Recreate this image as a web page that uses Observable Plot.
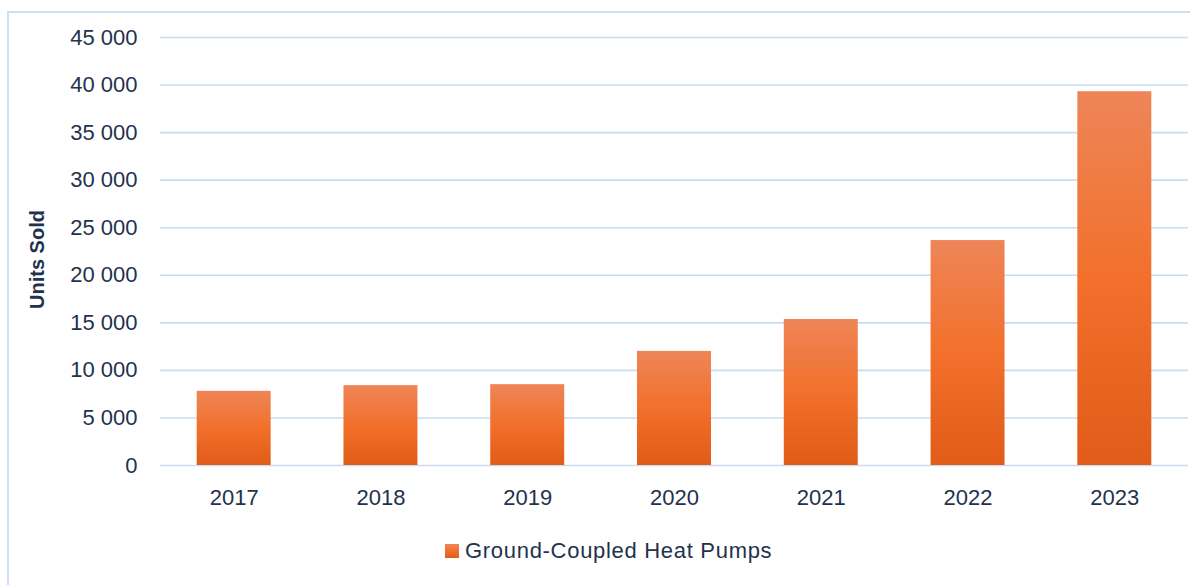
<!DOCTYPE html>
<html>
<head>
<meta charset="utf-8">
<script src="https://cdn.jsdelivr.net/npm/d3@7"></script>
<script src="https://cdn.jsdelivr.net/npm/@observablehq/plot@0.6"></script>
<style>
  html, body { margin: 0; padding: 0; background: #fff; }
  body { width: 1190px; height: 585px; position: relative; overflow: hidden; font-family: "Liberation Sans", Arial, sans-serif; }
  #frame { position: absolute; left: 7px; top: 11px; right: -5px; bottom: -5px; border-left: 2px solid #CCDFF3; border-top: 2px solid #CCDFF3; }
  #chart { position: absolute; left: 0; top: 0; }
  #legend { position: absolute; left: 445px; top: 538px; display: flex; align-items: center; font-size: 22px; letter-spacing: 0.7px; color: #1F324E; }
  #legend .sw { width: 14px; height: 14px; margin-right: 6px; background: linear-gradient(to bottom, #EE8558, #F2702B 50%, #E05C18); }
</style>
</head>
<body>
<div id="frame"></div>
<div id="chart"></div>
<div id="legend"><span class="sw"></span><span>Ground-Coupled Heat Pumps</span></div>
<script>
const years = ["2017", "2018", "2019", "2020", "2021", "2022", "2023"];
const unitsSold = [7800, 8400, 8500, 12000, 15350, 23650, 39300];
const yTicks = [0, 5000, 10000, 15000, 20000, 25000, 30000, 35000, 40000, 45000];
const seriesName = "Ground-Coupled Heat Pumps";
const yLabel = "Units Sold";

const data = years.map((y, i) => ({year: y, value: unitsSold[i]}));
const fmt = d => d3.format(",")(d).replace(/,/g, " ");
const textColor = "#1F324E";

const chart = Plot.plot({
  width: 1190,
  height: 525,
  marginLeft: 160,
  marginRight: 2,
  marginTop: 37,
  marginBottom: 60,
  style: {fontFamily: "'Liberation Sans', Arial, sans-serif", fontSize: "22px", color: textColor, background: "transparent"},
  x: {domain: years, paddingInner: 0.496, paddingOuter: 0.25, round: false, label: null},
  y: {domain: [0, 45000], label: null},
  marks: [
    Plot.ruleY(yTicks, {stroke: "#C9DCF0", strokeWidth: 1.6}),
    Plot.barY(data, {x: "year", y: "value", fill: "url(#barGrad)"}),
    Plot.axisY({ticks: yTicks, tickFormat: fmt, tickSize: 0, tickPadding: 23, fontSize: 22, fill: textColor, label: null}),
    Plot.axisX({tickSize: 0, tickPadding: 24, fontSize: 22, fill: textColor, label: null}),
    Plot.text([yLabel], {frameAnchor: "left", textAnchor: "middle", rotate: -90, dx: -123, dy: 8, fontSize: 20, fontWeight: "bold", fill: textColor})
  ]
});

const defs = d3.select(chart).insert("defs", ":first-child");
const grad = defs.append("linearGradient").attr("id", "barGrad").attr("x1", 0).attr("y1", 0).attr("x2", 0).attr("y2", 1);
grad.append("stop").attr("offset", "0%").attr("stop-color", "#EE8558");
grad.append("stop").attr("offset", "50%").attr("stop-color", "#F2702B");
grad.append("stop").attr("offset", "100%").attr("stop-color", "#E05C18");

document.getElementById("chart").appendChild(chart);
</script>
</body>
</html>
